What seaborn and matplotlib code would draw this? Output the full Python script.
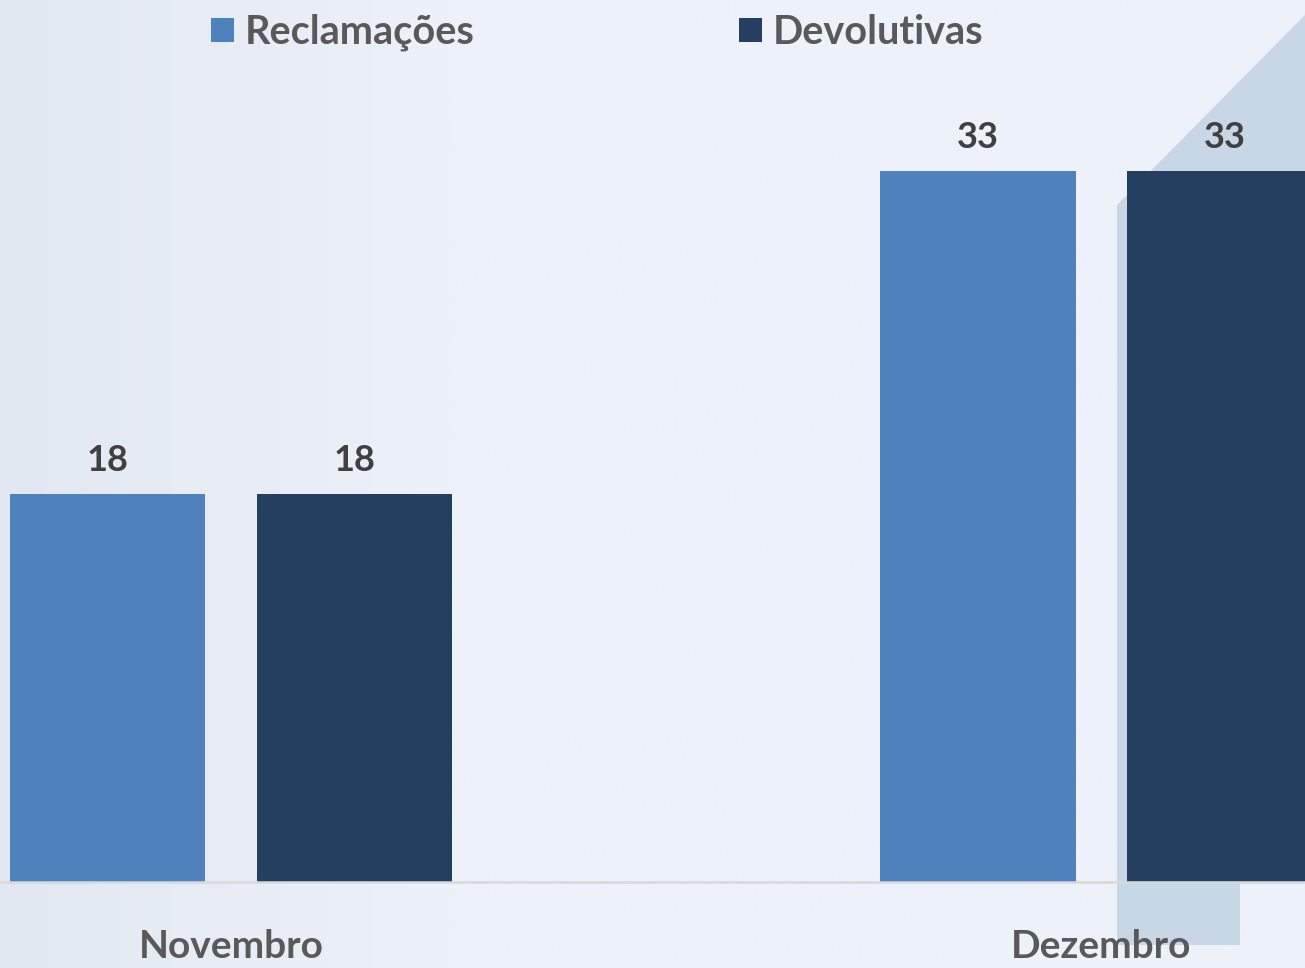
import numpy as np
import pandas as pd
import seaborn as sns
import matplotlib.pyplot as plt
from matplotlib.patches import Polygon

# ---- data ----
months = ["Novembro", "Dezembro"]
series = ["Reclamações", "Devolutivas"]
reclamacoes = [18, 33]
devolutivas = [18, 33]
colors = ["#4f81bd", "#243f60"]

df = pd.DataFrame({
    "Mês": months * 2,
    "Tipo": [series[0]] * len(months) + [series[1]] * len(months),
    "Valor": reclamacoes + devolutivas,
})

sns.set_theme(style="white")
plt.rcParams['font.family'] = ['Lato', 'DejaVu Sans']

W, H = 1305, 968
fig = plt.figure(figsize=(W / 100, H / 100), dpi=100)
fig.patch.set_facecolor('#edf1f9')

# ---- decorative background ----
bg = fig.add_axes([0, 0, 1, 1], zorder=0)
xs = np.linspace(0, W, 200)
t = np.clip(xs / 450.0, 0, 1)
c0 = np.array([226, 232, 241]) / 255
c1 = np.array([237, 241, 249]) / 255
row = c0[None, :] * (1 - t[:, None]) + c1[None, :] * t[:, None]
grad = np.repeat(row[None, :, :], 2, axis=0)
bg.imshow(grad, extent=[0, W, H, 0], aspect='auto', interpolation='bilinear')
bg.add_patch(Polygon([(1117, 205), (1305, 15), (1305, 882), (1240, 882),
                      (1240, 945), (1117, 945)], closed=True,
                     facecolor='#c8d7e5', lw=0))
bg.set_xlim(0, W)
bg.set_ylim(H, 0)
bg.axis('off')

# ---- main chart ----
ax = fig.add_axes([0, 86 / H, 1, 882 / H], zorder=1)
ax.patch.set_alpha(0)
sns.barplot(data=df, x="Mês", y="Valor", hue="Tipo", hue_order=series,
            palette=colors, saturation=1, width=0.5675, gap=0.21,
            linewidth=0, edgecolor='none', ax=ax)

ax.set_xlim(-0.2654, 1.2338)
ax.set_ylim(0, 40.93)
ax.set_xlabel("")
ax.set_ylabel("")
ax.set_yticks([])
for s in ["left", "right", "top"]:
    ax.spines[s].set_visible(False)
ax.spines["bottom"].set_color("#d9d9d9")
ax.spines["bottom"].set_linewidth(1.8)
ax.tick_params(axis='x', length=0, pad=34, labelsize=28, labelcolor='#595959')
for lbl in ax.get_xticklabels():
    lbl.set_fontweight('bold')

for c in ax.containers:
    ax.bar_label(c, fontsize=26, fontweight='bold', color='#404040', padding=12)

sns.move_legend(ax, "upper center", bbox_to_anchor=(597 / W, 1.0), ncol=2,
                frameon=False, title=None, fontsize=28.5,
                handlelength=0.58, handleheight=0.58, handletextpad=0.28,
                columnspacing=6.67, borderaxespad=0.1, borderpad=0.25)
leg = ax.get_legend()
for txt in leg.get_texts():
    txt.set_color('#595959')
    txt.set_fontweight('bold')

fig.savefig("out.png", dpi=100, facecolor=fig.get_facecolor())
